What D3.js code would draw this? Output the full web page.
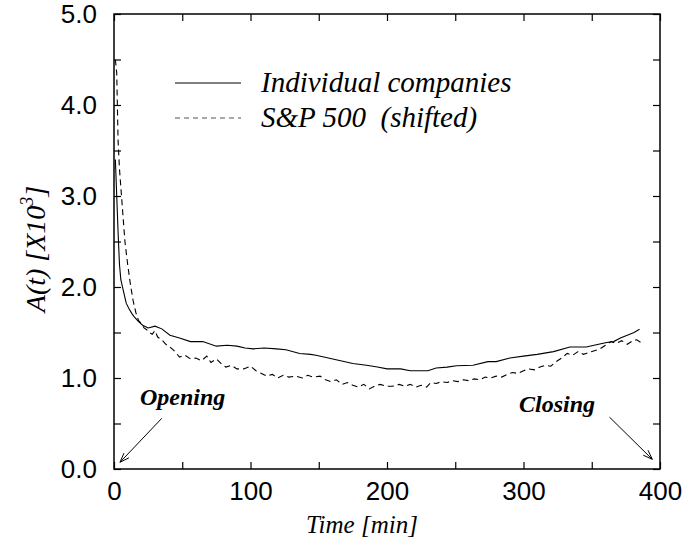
<!DOCTYPE html>
<html>
<head>
<meta charset="utf-8">
<script src="https://cdn.jsdelivr.net/npm/d3@7"></script>
<style>
  body { margin: 0; background: #fff; }
  .tick text { font-family: "Liberation Sans", Arial, sans-serif; font-size: 26px; fill: #000; }
  .ital { font-family: "Liberation Serif", "Times New Roman", serif; font-style: italic; white-space: pre; }
</style>
</head>
<body>
<div class="canvas"></div>
<script>
// individual companies (solid)
const compT = [1, 2, 3, 4, 5, 7, 9, 11, 13, 15, 18, 21, 25, 30, 35, 41, 48, 56, 65, 75, 83, 90, 96, 102, 110, 119, 126, 136, 144, 148, 157, 166, 175, 185, 193, 200, 210, 217, 224, 230, 236, 244, 251, 263, 274, 280, 290, 300, 310, 322, 334, 346, 355, 361, 366, 371, 376, 381, 385];
const compA = [3.4, 3.0, 2.6, 2.25, 2.08, 1.95, 1.82, 1.76, 1.71, 1.67, 1.62, 1.58, 1.55, 1.57, 1.54, 1.47, 1.44, 1.40, 1.40, 1.35, 1.36, 1.35, 1.33, 1.32, 1.33, 1.32, 1.31, 1.27, 1.26, 1.25, 1.22, 1.19, 1.16, 1.14, 1.12, 1.10, 1.10, 1.08, 1.08, 1.08, 1.11, 1.12, 1.135, 1.14, 1.18, 1.18, 1.22, 1.24, 1.26, 1.29, 1.34, 1.34, 1.37, 1.39, 1.40, 1.44, 1.47, 1.50, 1.535];

// S&P 500 shifted (dashed)
const spT = [1, 2, 3, 4, 5.5, 7, 8, 10, 12, 14, 16, 18, 20, 22, 24, 26, 28, 30, 32, 35, 38, 41, 44, 48, 52, 56, 60, 64, 68, 71, 75, 79, 82, 86, 90, 95, 100, 104, 108, 112, 116, 120, 124, 128, 133, 138, 142, 146, 151, 155, 159, 163, 167, 171, 175, 179, 183, 187, 191, 195, 199, 204, 209, 213, 217, 221, 225, 229, 232, 236, 240, 244, 248, 252, 256, 260, 264, 268, 272, 276, 280, 284, 288, 292, 296, 300, 304, 308, 312, 316, 320, 324, 328, 332, 336, 340, 344, 348, 352, 356, 360, 364, 368, 372, 376, 380, 383, 386];
const spA = [4.5, 4.35, 3.6, 3.3, 3.0, 2.7, 2.5, 2.25, 2.03, 1.85, 1.72, 1.63, 1.60, 1.55, 1.53, 1.50, 1.48, 1.52, 1.45, 1.42, 1.37, 1.34, 1.30, 1.23, 1.25, 1.21, 1.22, 1.19, 1.24, 1.17, 1.21, 1.15, 1.12, 1.14, 1.10, 1.10, 1.13, 1.08, 1.05, 1.02, 1.04, 1.00, 1.03, 1.01, 1.02, 1.00, 1.03, 1.01, 1.02, 0.98, 0.96, 0.98, 0.93, 0.95, 0.92, 0.90, 0.93, 0.88, 0.91, 0.93, 0.91, 0.91, 0.93, 0.91, 0.93, 0.90, 0.92, 0.90, 0.95, 0.94, 0.96, 0.95, 0.97, 0.96, 0.98, 0.97, 0.99, 0.98, 1.01, 1.00, 1.02, 1.01, 1.04, 1.06, 1.05, 1.08, 1.10, 1.09, 1.12, 1.14, 1.13, 1.18, 1.22, 1.27, 1.25, 1.29, 1.26, 1.28, 1.30, 1.32, 1.36, 1.40, 1.38, 1.41, 1.37, 1.41, 1.42, 1.39];

const xTicks = [0, 100, 200, 300, 400];
const xMinor = [50, 150, 250, 350];
const yTicks = [0, 1, 2, 3, 4, 5];
const yMinor = [0.5, 1.5, 2.5, 3.5, 4.5];
const seriesNames = ['Individual companies', 'S&P 500  (shifted)'];

const svg = d3.select('.canvas')
  .append('svg')
    .attr('width', 685)
    .attr('height', 550);

const margin = {top: 14, right: 25, bottom: 81, left: 114};
const graphWidth = 685 - margin.left - margin.right;
const graphHeight = 550 - margin.top - margin.bottom;

const graph = svg.append('g')
  .attr('transform', `translate(${margin.left}, ${margin.top})`);

const x = d3.scaleLinear().domain([0, 400]).range([0, graphWidth]);
const y = d3.scaleLinear().domain([0, 5]).range([graphHeight, 0]);

const tk = 7;

// labelled axes, ticks pointing inward
graph.append('g')
  .attr('transform', `translate(0, ${graphHeight})`)
  .call(d3.axisBottom(x).tickValues(xTicks).tickSize(-tk).tickSizeOuter(0).tickPadding(13).tickFormat(d3.format('d')));
graph.append('g')
  .call(d3.axisLeft(y).tickValues(yTicks).tickSize(-tk).tickSizeOuter(0).tickPadding(17).tickFormat(d3.format('.1f')));

// minor ticks + mirrored ticks on top/right
graph.append('g')
  .attr('transform', `translate(0, ${graphHeight})`)
  .call(d3.axisBottom(x).tickValues(xMinor).tickSize(-tk).tickSizeOuter(0).tickFormat(''));
graph.append('g')
  .call(d3.axisLeft(y).tickValues(yMinor).tickSize(-tk).tickSizeOuter(0).tickFormat(''));
graph.append('g')
  .call(d3.axisTop(x).tickValues(xTicks.concat(xMinor)).tickSize(-tk).tickSizeOuter(0).tickFormat(''));
graph.append('g')
  .attr('transform', `translate(${graphWidth}, 0)`)
  .call(d3.axisRight(y).tickValues(yTicks.concat(yMinor)).tickSize(-tk).tickSizeOuter(0).tickFormat(''));

graph.selectAll('.domain').remove();
graph.selectAll('.tick line').attr('stroke', '#000').attr('stroke-width', 1.2);

graph.append('rect')
  .attr('width', graphWidth)
  .attr('height', graphHeight)
  .attr('fill', 'none')
  .attr('stroke', '#000')
  .attr('stroke-width', 1.5);

// lines
const line = d3.line().x(d => x(d[0])).y(d => y(d[1]));

graph.append('path')
  .datum(compT.map((t, i) => [t, compA[i]]))
  .attr('d', line)
  .attr('fill', 'none')
  .attr('stroke', '#000')
  .attr('stroke-width', 1.1);

graph.append('path')
  .datum(spT.map((t, i) => [t, spA[i]]))
  .attr('d', line)
  .attr('fill', 'none')
  .attr('stroke', '#000')
  .attr('stroke-width', 1.1)
  .attr('stroke-dasharray', '6,4');

// legend
const legend = graph.append('g');
const legY = [69, 104];
seriesNames.forEach((name, i) => {
  legend.append('line')
    .attr('x1', 61).attr('x2', 127)
    .attr('y1', legY[i]).attr('y2', legY[i])
    .attr('stroke', i ? '#555' : '#000')
    .attr('stroke-width', 1.1)
    .attr('stroke-dasharray', i ? '5,4' : null);
  legend.append('text')
    .attr('class', 'ital')
    .attr('x', 147)
    .attr('y', legY[i] + 9)
    .attr('font-size', 29)
    .text(name);
});

// annotations
const arrow = (x1, y1, x2, y2) => {
  const g = graph.append('g');
  g.append('line')
    .attr('x1', x(x1)).attr('y1', y(y1))
    .attr('x2', x(x2)).attr('y2', y(y2))
    .attr('stroke', '#000').attr('stroke-width', 1);
  const a = Math.atan2(y(y2) - y(y1), x(x2) - x(x1));
  const hl = 10, hw = 0.35;
  [a + Math.PI - hw, a + Math.PI + hw].forEach(b => {
    g.append('line')
      .attr('x1', x(x2)).attr('y1', y(y2))
      .attr('x2', x(x2) + hl * Math.cos(b)).attr('y2', y(y2) + hl * Math.sin(b))
      .attr('stroke', '#000').attr('stroke-width', 1);
  });
};
arrow(35, 0.557, 4.4, 0.074);
arrow(363, 0.57, 394.4, 0.106);

graph.append('text')
  .attr('class', 'ital')
  .attr('x', x(19)).attr('y', y(0.70))
  .attr('font-size', 24).attr('font-weight', 'bold')
  .text('Opening');
graph.append('text')
  .attr('class', 'ital')
  .attr('x', x(296.7)).attr('y', y(0.63))
  .attr('font-size', 24).attr('font-weight', 'bold')
  .text('Closing');

// axis titles
svg.append('text')
  .attr('class', 'ital')
  .attr('x', 362).attr('y', 533)
  .attr('text-anchor', 'middle')
  .attr('font-size', 25)
  .text('Time [min]');

const yl = svg.append('text')
  .attr('class', 'ital')
  .attr('transform', 'translate(45, 249) rotate(-90)')
  .attr('text-anchor', 'middle')
  .attr('font-size', 28);
yl.append('tspan').text('A(t) [X10');
yl.append('tspan').attr('dy', -12).attr('font-size', 18).text('3');
yl.append('tspan').attr('dy', 12).text(']');
</script>
</body>
</html>
